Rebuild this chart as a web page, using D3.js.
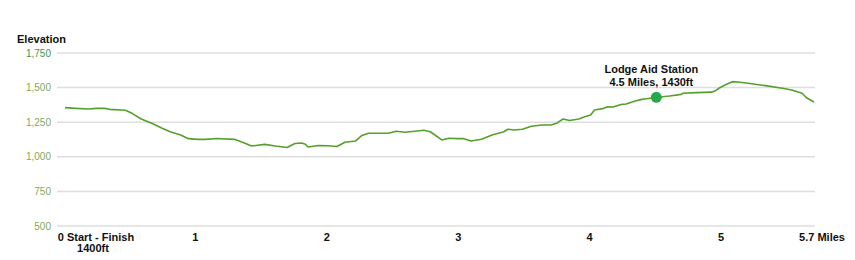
<!DOCTYPE html>
<html>
<head>
<meta charset="utf-8">
<script src="https://cdn.jsdelivr.net/npm/d3@7"></script>
<style>
  html, body { margin: 0; padding: 0; background: #fff; }
  svg { display: block; font-family: "Liberation Sans", Arial, sans-serif; }
</style>
</head>
<body>
<svg id="chart" width="855" height="260"></svg>
<script>
// ---- data ----
const miles = [0, 0.08, 0.18, 0.24, 0.30, 0.34, 0.46, 0.51, 0.58, 0.66, 0.74, 0.80, 0.88, 0.94, 1.01, 1.07, 1.15, 1.29, 1.36, 1.42, 1.52, 1.60, 1.69, 1.75, 1.80, 1.83, 1.85, 1.93, 2.00, 2.07, 2.13, 2.21, 2.26, 2.31, 2.46, 2.52, 2.59, 2.73, 2.78, 2.87, 2.92, 2.99, 3.03, 3.09, 3.17, 3.25, 3.34, 3.37, 3.42, 3.48, 3.55, 3.63, 3.70, 3.74, 3.79, 3.84, 3.91, 3.95, 4.00, 4.03, 4.10, 4.13, 4.17, 4.24, 4.27, 4.34, 4.39, 4.41, 4.50, 4.58, 4.60, 4.69, 4.70, 4.81, 4.92, 4.95, 4.98, 5.03, 5.08, 5.12, 5.20, 5.33, 5.46, 5.53, 5.61, 5.64, 5.70];
const elevation = [1355, 1350, 1345, 1350, 1350, 1343, 1336, 1314, 1273, 1242, 1206, 1181, 1157, 1131, 1126, 1126, 1132, 1126, 1102, 1078, 1090, 1078, 1067, 1096, 1100, 1090, 1071, 1082, 1080, 1074, 1105, 1114, 1154, 1170, 1170, 1185, 1177, 1192, 1181, 1121, 1134, 1131, 1132, 1114, 1127, 1157, 1181, 1199, 1194, 1199, 1221, 1230, 1230, 1242, 1273, 1262, 1273, 1287, 1302, 1338, 1350, 1362, 1360, 1379, 1381, 1403, 1415, 1418, 1428, 1437, 1439, 1451, 1459, 1464, 1467, 1478, 1497, 1522, 1543, 1540, 1531, 1514, 1495, 1483, 1459, 1428, 1396];
const yTicks = [500, 750, 1000, 1250, 1500, 1750];
const xTicks = [1, 2, 3, 4, 5];
const xEnd = 5.7;
const xStartLabel = ["0 Start - Finish", "1400ft"];
const xEndLabel = "5.7 Miles";
const yTitle = "Elevation";
const station = { mile: 4.5, elev: 1430, lines: ["Lodge Aid Station", "4.5 Miles, 1430ft"] };

// ---- layout ----
const svg = d3.select("#chart");
const x = d3.scaleLinear().domain([0, xEnd]).range([65, 814]);
const y = d3.scaleLinear().domain([500, 1750]).range([226, 53]);

// gridlines
svg.append("g").selectAll("line").data(yTicks).join("line")
  .attr("x1", 57).attr("x2", 815)
  .attr("y1", d => y(d)).attr("y2", d => y(d))
  .attr("stroke", "#dedede").attr("stroke-width", 1.5);

// y labels
svg.append("g").selectAll("text").data(yTicks).join("text")
  .attr("x", 51).attr("y", d => y(d) + 3.5)
  .attr("text-anchor", "end")
  .attr("font-size", 10)
  .attr("fill", d => d === 1750 ? "#3e9650" : "#82a85a")
  .text(d => d3.format(",")(d));

// y title
svg.append("text").attr("x", 17).attr("y", 43)
  .attr("font-size", 11).attr("font-weight", "bold").attr("fill", "#111")
  .text(yTitle);

// x labels
svg.append("g").selectAll("text").data(xTicks).join("text")
  .attr("x", d => x(d) - 1).attr("y", 241)
  .attr("text-anchor", "middle")
  .attr("font-size", 11).attr("font-weight", "bold").attr("fill", "#111")
  .text(d => d);

svg.append("text").attr("x", x(0) + 31).attr("y", 241)
  .attr("text-anchor", "middle")
  .attr("font-size", 11).attr("font-weight", "bold").attr("fill", "#111")
  .text(xStartLabel[0]);
svg.append("text").attr("x", x(0) + 28).attr("y", 252)
  .attr("text-anchor", "middle")
  .attr("font-size", 11).attr("font-weight", "bold").attr("fill", "#111")
  .text(xStartLabel[1]);
svg.append("text").attr("x", x(xEnd) + 8).attr("y", 241)
  .attr("text-anchor", "middle")
  .attr("font-size", 11).attr("font-weight", "bold").attr("fill", "#111")
  .text(xEndLabel);

// profile line
const pts = miles.map((m, i) => [m, elevation[i]]);
const line = d3.line().x(d => x(d[0])).y(d => y(d[1])).curve(d3.curveLinear);
svg.append("path").datum(pts)
  .attr("d", line)
  .attr("fill", "none")
  .attr("stroke", "#55a02a")
  .attr("stroke-width", 1.6)
  .attr("stroke-linejoin", "round");

// station marker
svg.append("circle")
  .attr("cx", x(station.mile)).attr("cy", y(station.elev))
  .attr("r", 5.5).attr("fill", "#2aa84f");

svg.append("g").selectAll("text").data(station.lines).join("text")
  .attr("x", x(station.mile) - 5)
  .attr("y", (d, i) => 73 + i * 12.5)
  .attr("text-anchor", "middle")
  .attr("font-size", 11).attr("font-weight", "bold").attr("fill", "#111")
  .text(d => d);
</script>
</body>
</html>
